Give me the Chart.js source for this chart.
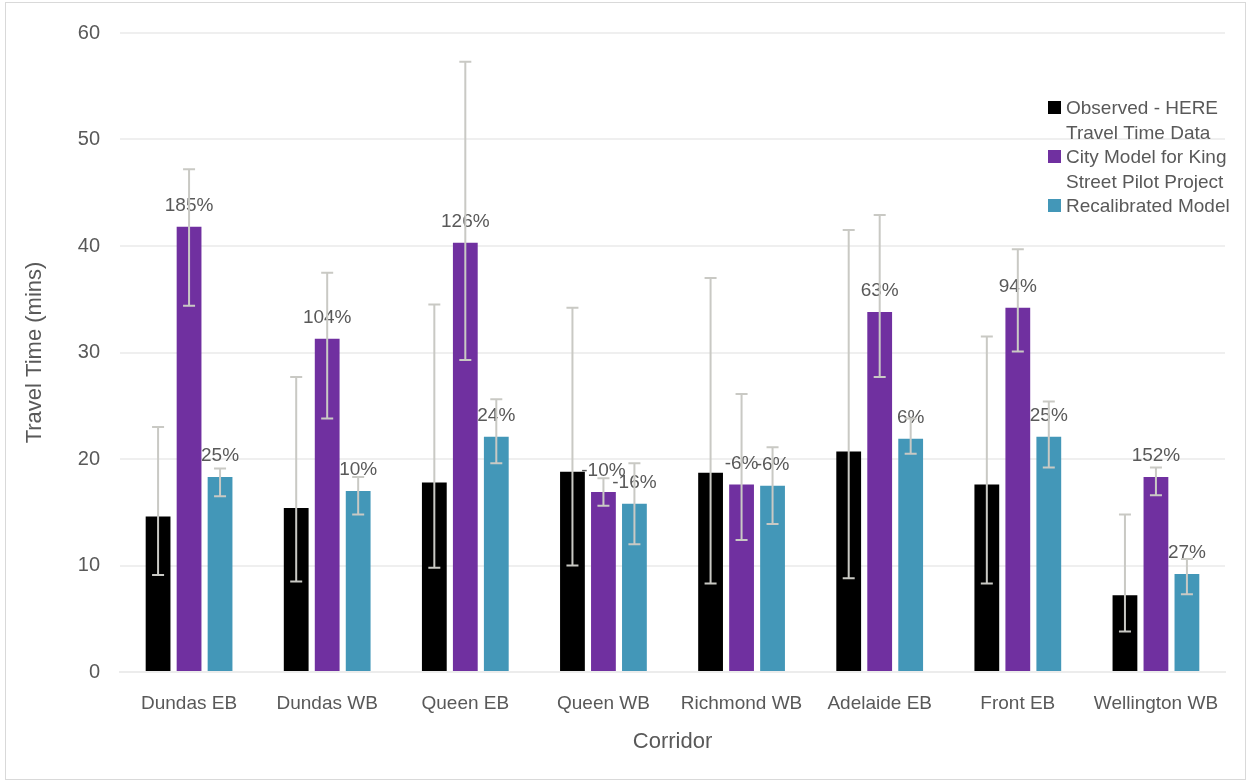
<!DOCTYPE html>
<html>
<head>
<meta charset="utf-8">
<script src="https://cdn.jsdelivr.net/npm/chart.js@4.4.1/dist/chart.umd.min.js"></script>
<style>
  html, body { margin: 0; padding: 0; background: #fff; }
  #wrap { width: 1251px; height: 782px; }
</style>
</head>
<body>
<div id="wrap"><canvas id="travelChart" width="1251" height="782"></canvas></div>
<script>
var categories = ["Dundas EB", "Dundas WB", "Queen EB", "Queen WB", "Richmond WB", "Adelaide EB", "Front EB", "Wellington WB"];
var seriesNames = [["Observed - HERE", "Travel Time Data"], ["City Model for King", "Street Pilot Project"], ["Recalibrated Model"]];

var observed = [14.6, 15.4, 17.8, 18.8, 18.7, 20.7, 17.6, 7.2];
var cityModel = [41.8, 31.3, 40.3, 16.9, 17.6, 33.8, 34.2, 18.3];
var recalibrated = [18.3, 17.0, 22.1, 15.8, 17.5, 21.9, 22.1, 9.2];

var observedLow = [9.1, 8.5, 9.8, 10.0, 8.3, 8.8, 8.3, 3.8];
var observedHigh = [23.0, 27.7, 34.5, 34.2, 37.0, 41.5, 31.5, 14.8];
var cityLow = [34.4, 23.8, 29.3, 15.6, 12.4, 27.7, 30.1, 16.6];
var cityHigh = [47.2, 37.5, 57.3, 18.2, 26.1, 42.9, 39.7, 19.2];
var recalLow = [16.5, 14.8, 19.6, 12.0, 13.9, 20.5, 19.2, 7.3];
var recalHigh = [19.1, 18.3, 25.6, 19.6, 21.1, 23.8, 25.4, 10.6];

var cityPct = ["185%", "104%", "126%", "-10%", "-6%", "63%", "94%", "152%"];
var recalPct = ["25%", "10%", "24%", "-16%", "-6%", "6%", "25%", "27%"];

var barColors = ["#000000", "#7030a0", "#4397b8"];
var font = "'Liberation Sans', Arial, sans-serif";
var textColor = "#595959";

var errorLow = [observedLow, cityLow, recalLow];
var errorHigh = [observedHigh, cityHigh, recalHigh];
var pctLabels = [null, cityPct, recalPct];

// white background + thin frame
var framePlugin = {
  id: "frame",
  beforeDraw: function (chart) {
    var ctx = chart.ctx;
    ctx.save();
    ctx.fillStyle = "#ffffff";
    ctx.fillRect(0, 0, chart.width, chart.height);
    ctx.strokeStyle = "#d9d9d9";
    ctx.lineWidth = 1;
    ctx.strokeRect(5.5, 2.5, chart.width - 11, chart.height - 5);
    ctx.restore();
  },
};

// percent labels, then error bars on top, legend last
var extrasPlugin = {
  id: "extras",
  afterDatasetsDraw: function (chart) {
    var ctx = chart.ctx;
    var y = chart.scales.y;
    ctx.save();
    ctx.font = "19px " + font;
    ctx.fillStyle = textColor;
    ctx.textAlign = "center";
    ctx.textBaseline = "alphabetic";
    chart.data.datasets.forEach(function (ds, i) {
      if (!pctLabels[i]) return;
      chart.getDatasetMeta(i).data.forEach(function (bar, j) {
        ctx.fillText(pctLabels[i][j], bar.x, bar.y - 16);
      });
    });
    ctx.strokeStyle = "#c9c9c4";
    ctx.lineWidth = 2;
    chart.data.datasets.forEach(function (ds, i) {
      chart.getDatasetMeta(i).data.forEach(function (bar, j) {
        var top = y.getPixelForValue(errorHigh[i][j]);
        var bot = y.getPixelForValue(errorLow[i][j]);
        ctx.beginPath();
        ctx.moveTo(bar.x, top);
        ctx.lineTo(bar.x, bot);
        ctx.moveTo(bar.x - 6, top);
        ctx.lineTo(bar.x + 6, top);
        ctx.moveTo(bar.x - 6, bot);
        ctx.lineTo(bar.x + 6, bot);
        ctx.stroke();
      });
    });
    ctx.restore();
  },
  afterDraw: function (chart) {
    var ctx = chart.ctx;
    ctx.save();
    ctx.font = "19px " + font;
    ctx.textAlign = "left";
    ctx.textBaseline = "alphabetic";
    var baseline = 114;
    seriesNames.forEach(function (lines, i) {
      ctx.fillStyle = barColors[i];
      ctx.fillRect(1048, baseline - 13, 13, 13);
      ctx.fillStyle = textColor;
      lines.forEach(function (line) {
        ctx.fillText(line, 1066, baseline);
        baseline += 24.5;
      });
    });
    ctx.restore();
  },
};

new Chart("travelChart", {
  type: "bar",
  data: {
    labels: categories,
    datasets: [
      { label: "Observed - HERE Travel Time Data", data: observed, backgroundColor: barColors[0] },
      { label: "City Model for King Street Pilot Project", data: cityModel, backgroundColor: barColors[1] },
      { label: "Recalibrated Model", data: recalibrated, backgroundColor: barColors[2] },
    ],
  },
  options: {
    responsive: false,
    animation: false,
    layout: { padding: { top: 33, right: 26, left: 0, bottom: 27 } },
    datasets: {
      bar: { barPercentage: 0.8, categoryPercentage: 0.673 },
    },
    plugins: {
      legend: { display: false },
      tooltip: { enabled: false },
    },
    scales: {
      x: {
        grid: { display: false },
        border: { color: "#ececec", width: 2 },
        ticks: { color: textColor, font: { family: font, size: 19 }, padding: 12, maxRotation: 0, autoSkip: false },
        title: { display: true, text: "Corridor", color: textColor, font: { family: font, size: 22 }, padding: { top: 4, bottom: 0 } },
        afterFit: function (scale) { scale.height = 83; },
      },
      y: {
        min: 0,
        max: 60,
        ticks: { stepSize: 10, color: textColor, font: { family: font, size: 20 }, padding: 20 },
        grid: { color: "#efefef", lineWidth: 2, drawTicks: false },
        border: { display: false },
        title: { display: true, text: "Travel Time (mins)", color: textColor, font: { family: font, size: 22 }, padding: { top: 22, bottom: 0 } },
        afterFit: function (scale) { scale.width = 120; },
      },
    },
  },
  plugins: [framePlugin, extrasPlugin],
});
</script>
</body>
</html>
